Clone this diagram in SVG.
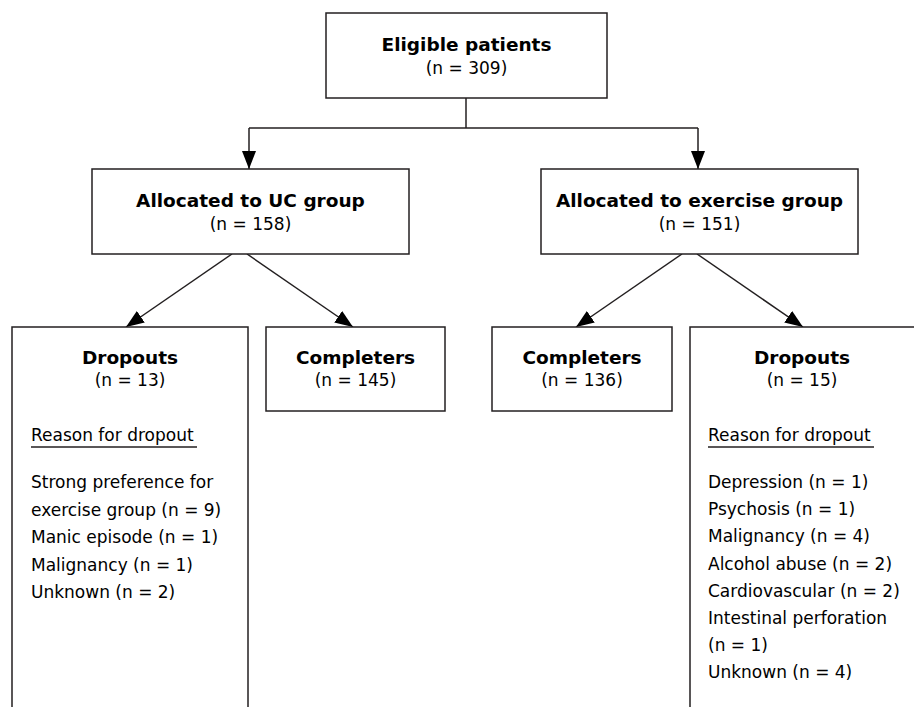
<svg xmlns="http://www.w3.org/2000/svg" width="914" height="707" viewBox="0 0 914 707">
<defs>
<style>
.box{fill:#fff;stroke:#231f20;stroke-width:1.5}
.ln{fill:none;stroke:#231f20;stroke-width:1.5}
.b{font-family:"DejaVu Sans","Liberation Sans",sans-serif;font-weight:bold;font-size:18.5px;fill:#000;text-anchor:middle}
.r{font-family:"DejaVu Sans","Liberation Sans",sans-serif;font-size:17px;fill:#000}
.c{text-anchor:middle}
</style>
<marker id="ah" viewBox="0 0 18 14" refX="18" refY="7" markerWidth="18" markerHeight="14" markerUnits="userSpaceOnUse" orient="auto">
<path d="M0,0 L18,7 L0,14 Z" fill="#000"/>
</marker>
</defs>
<rect width="914" height="707" fill="#fff"/>
<g id="connectors">
<path class="ln" d="M466,98 V128"/>
<path class="ln" d="M249,128 H698"/>
<path class="ln" d="M249,128 V169" marker-end="url(#ah)"/>
<path class="ln" d="M698,128 V169" marker-end="url(#ah)"/>
<path class="ln" d="M232,254 L126,327" marker-end="url(#ah)"/>
<path class="ln" d="M247,254 L353,327" marker-end="url(#ah)"/>
<path class="ln" d="M682,254 L576,327" marker-end="url(#ah)"/>
<path class="ln" d="M697,254 L803,327" marker-end="url(#ah)"/>
</g>
<g id="eligible">
<rect class="box" x="326" y="13" width="281" height="85"/>
<text class="b" x="466.5" y="51">Eligible patients</text>
<text class="r c" x="466.5" y="74">(n = 309)</text>
</g>
<g id="uc-group">
<rect class="box" x="92" y="169" width="317" height="85"/>
<text class="b" x="250.5" y="207">Allocated to UC group</text>
<text class="r c" x="250.5" y="230">(n = 158)</text>
</g>
<g id="exercise-group">
<rect class="box" x="541" y="169" width="317" height="85"/>
<text class="b" x="699.5" y="207">Allocated to exercise group</text>
<text class="r c" x="699.5" y="230">(n = 151)</text>
</g>
<g id="uc-dropouts">
<rect class="box" x="12" y="327" width="236" height="400"/>
<text class="b" x="130" y="364">Dropouts</text>
<text class="r c" x="130" y="386">(n = 13)</text>
<text class="r" x="31" y="441">Reason for dropout</text>
<line class="ln" x1="31" y1="447" x2="197" y2="447"/>
<text class="r" x="31" y="488">Strong preference for</text>
<text class="r" x="31" y="515.5">exercise group (n = 9)</text>
<text class="r" x="31" y="543">Manic episode (n = 1)</text>
<text class="r" x="31" y="570.5">Malignancy (n = 1)</text>
<text class="r" x="31" y="598">Unknown (n = 2)</text>
</g>
<g id="uc-completers">
<rect class="box" x="266" y="327" width="179" height="84"/>
<text class="b" x="355.5" y="364">Completers</text>
<text class="r c" x="355.5" y="386">(n = 145)</text>
</g>
<g id="ex-completers">
<rect class="box" x="492" y="327" width="180" height="84"/>
<text class="b" x="582" y="364">Completers</text>
<text class="r c" x="582" y="386">(n = 136)</text>
</g>
<g id="ex-dropouts">
<rect class="box" x="690" y="327" width="240" height="400"/>
<text class="b" x="802" y="364">Dropouts</text>
<text class="r c" x="802" y="386">(n = 15)</text>
<text class="r" x="708" y="441">Reason for dropout</text>
<line class="ln" x1="708" y1="447" x2="874" y2="447"/>
<text class="r" x="708" y="488">Depression (n = 1)</text>
<text class="r" x="708" y="515.2">Psychosis (n = 1)</text>
<text class="r" x="708" y="542.4">Malignancy (n = 4)</text>
<text class="r" x="708" y="569.6">Alcohol abuse (n = 2)</text>
<text class="r" x="708" y="596.8">Cardiovascular (n = 2)</text>
<text class="r" x="708" y="624">Intestinal perforation</text>
<text class="r" x="708" y="651.2">(n = 1)</text>
<text class="r" x="708" y="678.4">Unknown (n = 4)</text>
</g>
</svg>
